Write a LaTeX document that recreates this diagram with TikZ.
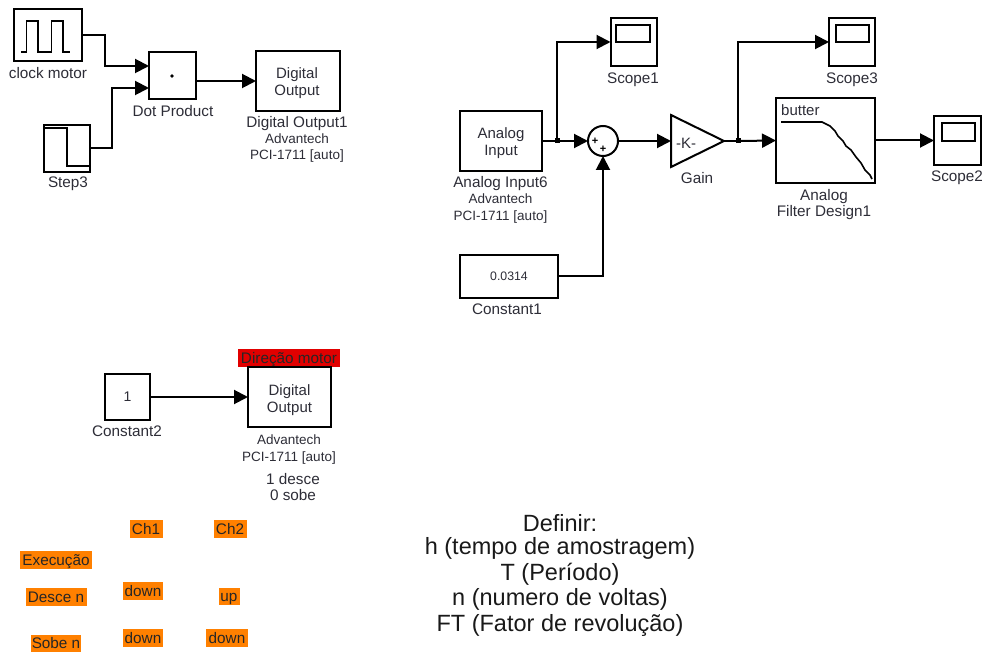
\documentclass[tikz,border=0pt]{standalone}
\usepackage{fontspec}
\setmainfont{Liberation Sans}
\usetikzlibrary{arrows.meta,calc}
\definecolor{txt}{RGB}{45,45,55}
\definecolor{tagorange}{RGB}{255,128,0}
\definecolor{tagred}{RGB}{225,0,0}
\tikzset{
  x=1pt,y=-1pt,
  block/.style={draw=black,line width=2pt,fill=white,minimum width=#1,inner sep=0pt,outer sep=0pt},
  wire/.style={draw=black,line width=2pt},
  arr/.style={wire,-{Triangle[length=14pt,width=14pt]}},
  lab/.style={font=\fontsize{15.3}{17}\selectfont,text=txt,inner sep=0pt,text height=11pt,text depth=1pt},
  sub/.style={font=\fontsize{13.5}{15}\selectfont,text=txt,inner sep=0pt,text height=10pt,text depth=0pt},
  blocktxt/.style={font=\fontsize{15}{17}\selectfont,text=txt,inner sep=0pt,align=center},
  tag/.style={fill=tagorange,text=black!85,font=\fontsize{15.3}{17}\selectfont,inner sep=1pt,text height=11pt,text depth=0pt},
  dotj/.style={fill=black,inner sep=0pt,minimum size=5pt,outer sep=0pt,shape=rectangle},
  defn/.style={font=\fontsize{23.5}{25}\selectfont,text=black!90,inner sep=0pt,align=center},
}
\begin{document}
\begin{tikzpicture}
\useasboundingbox (0,0) rectangle (986,652);
% blocks top-left
\node[block=68pt,minimum height=52pt] (clock) at (48,35) {};
\node[block=46pt,minimum height=47pt] (step) at (67,148.5) {};
\node[block=47pt,minimum height=47pt] (dotp) at (172.5,75.5) {};
\node[block=84pt,minimum height=60pt] (do1) at (298,81) {};
\node[blocktxt] (do1t) at (297,83) {Digital\\Output};
\draw[line width=1.6pt] (21,52) -- (26.5,52) -- (26.5,21) -- (38,21) -- (38,52) -- (51.5,52) -- (51.5,21) -- (63,21) -- (63,52) -- (70,52);
\draw[line width=1.6pt] (45,128) -- (67,128) -- (67,166) -- (90,166);
\fill (172,76) circle (1.8);
\node[lab] (clockl) at (48,74) {clock motor};
\node[lab] (stepl) at (68,183) {Step3};
\node[lab] (dotl) at (173,112) {Dot Product};
\node[lab] (do1l) at (297,122.5) {Digital Output1};
\node[sub] (do1a) at (297,138.5) {Advantech};
\node[sub] (do1b) at (297,155) {PCI-1711 [auto]};
\coordinate (in1) at (149,66);
\coordinate (in2) at (149,88);
\draw[arr] (clock.east |- 0,35) -- (105,35) -- (105,66) -- (in1);
\draw[arr] (step.east |- 0,148) -- (112,148) -- (112,88) -- (in2);
\draw[arr] (dotp.east |- 0,81) -- (do1.west);
% top-right
\node[block=82pt,minimum height=60pt] (ai) at (501,141) {};
\node[blocktxt] (ait) at (501,143) {Analog\\Input};
\node[draw=black,line width=2pt,circle,fill=white,minimum size=30pt,inner sep=0pt,outer sep=0pt] (sum) at (603,141) {};
\node[font=\fontsize{11}{11}\selectfont\bfseries,inner sep=0pt] (p1) at (595,141) {+};
\node[font=\fontsize{11}{11}\selectfont\bfseries,inner sep=0pt] (p2) at (603,149) {+};
\draw[line width=2pt,fill=white] (671,115) -- (724,141) -- (671,167) -- cycle;
\coordinate (gin) at (671,141);
\coordinate (gout) at (724,141);
\node[blocktxt] (k) at (686,143) {-K-};
\node[block=46pt,minimum height=48pt] (s1) at (633.5,42) {};
\draw[line width=2pt] (616,25) rectangle (650,42);
\node[block=46pt,minimum height=48pt] (s3) at (852,42) {};
\draw[line width=2pt] (836,25) rectangle (869,42);
\node[block=47pt,minimum height=49pt] (s2) at (957.5,140.5) {};
\draw[line width=2pt] (942,123) rectangle (975,141);
\node[block=99pt,minimum height=85pt] (flt) at (825.5,140.5) {};
\node[font=\fontsize{15}{16}\selectfont,text=txt,anchor=west,inner sep=0pt] (bt) at (781,110) {butter};
\draw[line width=1.6pt] (781,122) -- (822,122) -- (826,124) -- (830,126) -- (835,131) -- (838,136) -- (843,141) -- (846,146) -- (851,150) -- (856,157) -- (861,163) -- (865,170) -- (870,175) -- (872,179);
\node[block=98pt,minimum height=43pt,font=\fontsize{12.3}{15}\selectfont,text=txt] (c1) at (509,276.5) {0.0314};
\node[lab] (ail) at (500.5,183) {Analog Input6};
\node[sub] (aia) at (500.5,199) {Advantech};
\node[sub] (aib) at (500.5,215.5) {PCI-1711 [auto]};
\node[lab] (s1l) at (633,79) {Scope1};
\node[lab] (s3l) at (852,79) {Scope3};
\node[lab] (s2l) at (957,177) {Scope2};
\node[lab] (gl) at (697,179) {Gain};
\node[lab] (fl) at (824,195.5) {Analog};
\node[lab] (fl2) at (824,212) {Filter Design1};
\node[lab] (c1l) at (507,310) {Constant1};
\node[dotj] (j1) at (557,141) {};
\node[dotj] (j2) at (738,141) {};
\draw[wire] (ai.east) -- (j1);
\draw[arr] (j1) -- (sum.west);
\draw[arr] (j1) -- (557,42) -- (s1.west);
\draw[arr] (sum.east) -- (gin);
\draw[wire] (gout) -- (j2);
\draw[arr] (j2) -- (738,42) -- (s3.west);
\draw[arr] (j2) -- (flt.west);
\draw[arr] (flt.east) -- (s2.west |- flt.east);
\draw[arr] (c1.east) -- (603,276.5) -- (sum.south);
% lower-left
\node[block=45pt,minimum height=46pt,font=\fontsize{14}{15}\selectfont,text=txt] (c2) at (127.5,397) {1};
\node[fill=tagred,minimum width=102pt,minimum height=18pt,inner sep=0pt,text=black!85,font=\fontsize{15.3}{17}\selectfont,text height=11pt,text depth=0pt] (dir) at (289,358) {Direção motor};
\node[block=83pt,minimum height=60pt] (do2) at (289.5,397) {};
\node[blocktxt] (do2t) at (289.5,400) {Digital\\Output};
\node[lab] (c2l) at (127,432) {Constant2};
\node[sub] (do2a) at (289,440) {Advantech};
\node[sub] (do2b) at (289,456.5) {PCI-1711 [auto]};
\node[lab] (d1) at (293,479) {1 desce};
\node[lab] (d2) at (293,495.5) {0 sobe};
\draw[arr] (c2.east) -- (do2.west);
% tags
\node[tag,minimum width=33pt,minimum height=18pt] (t1) at (146,529) {Ch1};
\node[tag,minimum width=33pt,minimum height=18pt] (t2) at (230,529) {Ch2};
\node[tag,minimum width=72pt,minimum height=18pt] (t3) at (56,559.5) {Execução};
\node[tag,minimum width=61pt,minimum height=18pt] (t4) at (56,597) {Desce n};
\node[tag,minimum width=40pt,minimum height=18pt] (t5) at (143,591) {down};
\node[tag,minimum width=21pt,minimum height=17pt] (t6) at (229,596) {up};
\node[tag,minimum width=50pt,minimum height=17pt] (t7) at (56,643) {Sobe n};
\node[tag,minimum width=40pt,minimum height=18pt] (t8) at (143,638) {down};
\node[tag,minimum width=42pt,minimum height=18pt] (t9) at (227,638) {down};
% definitions
\node[defn] (d0) at (560,523) {Definir:};
\node[defn] (d3) at (560,548) {h (tempo de amostragem)};
\node[defn] (d4) at (560,574) {T (Período)};
\node[defn] (d5) at (560,599) {n (numero de voltas)};
\node[defn] (d6) at (560,625) {FT (Fator de revolução)};
\end{tikzpicture}
\end{document}
